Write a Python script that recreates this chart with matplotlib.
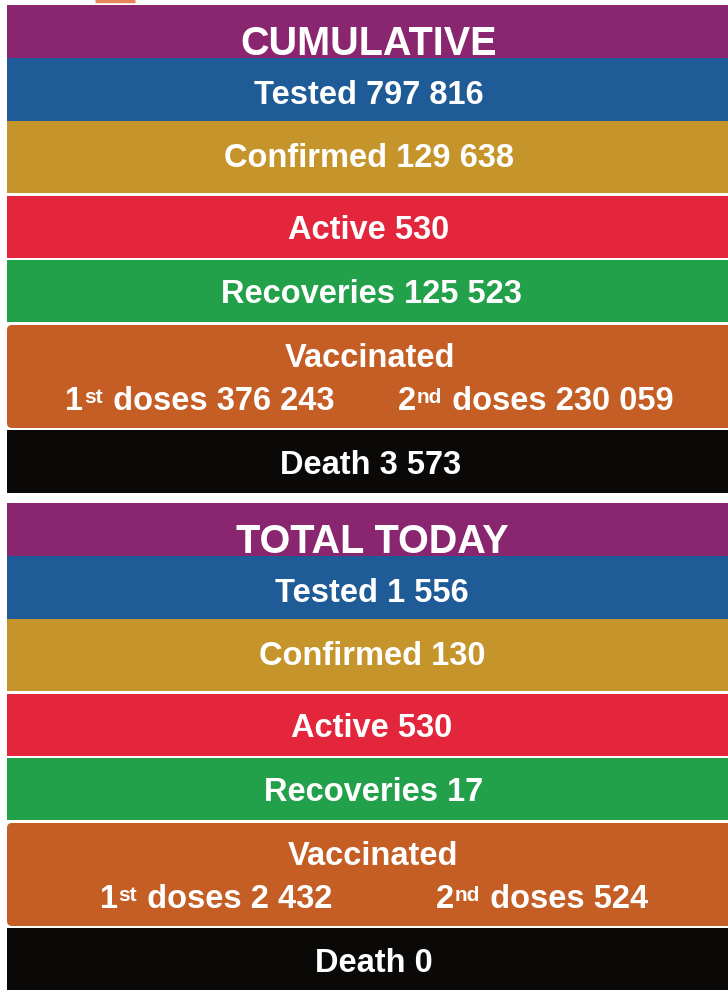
import matplotlib
matplotlib.use("Agg")
import matplotlib.pyplot as plt
from matplotlib.patches import FancyBboxPatch

# data
sections = ["CUMULATIVE", "TOTAL TODAY"]
row_labels = ["Tested", "Confirmed", "Active", "Recoveries", "Death"]
cumulative_values = [797816, 129638, 530, 125523, 3573]
today_values = [1556, 130, 530, 17, 0]
cumulative_doses = [376243, 230059]
today_doses = [2432, 524]
dose_numbers = ["1", "2"]
dose_suffixes = ["st", "nd"]

# layout (pixel coords of the 728x990 picture)
W, H = 728, 990
band_colors = ["#8A2570", "#1F5B97", "#C5952B", "#E3263C", "#22A04A", "#C45E24", "#0B0908"]
band_tops = [5, 58, 121, 196, 260, 325, 430]
band_bottoms = [58, 121, 193, 258, 322, 428, 493]
section_offset = [0, 498]
# baselines of the text lines
text_y = [55, 104, 167, 239, 303, 367, 410, 474]
text_x = [369, 369, 369, 369, 371, 370, 370, 371]
dose_x = [[199, 535], [215, 541]]

FONT = "Liberation Sans"
SIZE = 23.5
SUP_SIZE = 15


def fmt(v):
    return f"{v:,}".replace(",", " ")


fig = plt.figure(figsize=(W / 100, H / 100), dpi=100)
ax = fig.add_axes([0, 0, 1, 1])
ax.set_xlim(0, W)
ax.set_ylim(H, 0)
ax.axis("off")
renderer = fig.canvas.get_renderer()

# little orange stroke at the very top edge
ax.plot([95, 135], [1, 1], color="#E8835A", lw=2.5, solid_capstyle="butt")

kw = dict(color="white", fontsize=SIZE, family=FONT, fontweight="bold",
          ha="center", va="baseline")


def dose_line(xc, y, num, suffix, rest):
    # "1st doses 376 243" with a small raised suffix, centred on xc
    pieces = [(num, SIZE, 0), (suffix, SUP_SIZE, -7), (" " + rest, SIZE, 0)]
    texts = []
    widths = []
    for t, fs, dy in pieces:
        txt = ax.text(0, y + dy, t, color="white", fontsize=fs, family=FONT,
                      fontweight="bold", ha="left", va="baseline")
        texts.append(txt)
        widths.append(txt.get_window_extent(renderer).width)
    x = xc - sum(widths) / 2
    for txt, w in zip(texts, widths):
        txt.set_x(x)
        x += w + 1


for s, title in enumerate(sections):
    off = section_offset[s]
    values = cumulative_values if s == 0 else today_values
    doses = cumulative_doses if s == 0 else today_doses

    for i, col in enumerate(band_colors):
        top = band_tops[i] + off
        bot = min(band_bottoms[i] + off, H)
        if i == 5:
            ax.add_patch(FancyBboxPatch((7, top), W - 7 + 10, bot - top,
                                        boxstyle="round,pad=0,rounding_size=5",
                                        fc=col, ec="none"))
        else:
            ax.barh((top + bot) / 2, W - 7, height=bot - top, left=7,
                    color=col, edgecolor="none")

    ty = [y + off for y in text_y]
    ax.text(text_x[0] + 3 * s, ty[0], title, color="white", fontsize=28.5,
            family=FONT, fontweight="bold", ha="center", va="baseline")
    for k in range(4):
        ax.text(text_x[k + 1] + 3 * s, ty[k + 1],
                row_labels[k] + " " + fmt(values[k]), **kw)
    ax.text(text_x[5] + 3 * s, ty[5], "Vaccinated", **kw)
    for d in range(2):
        dose_line(dose_x[s][d], ty[6], dose_numbers[d], dose_suffixes[d],
                  "doses " + fmt(doses[d]))
    ax.text(text_x[7] + 3 * s, ty[7], row_labels[4] + " " + fmt(values[4]), **kw)

fig.savefig("out.png", dpi=100, facecolor="white")
